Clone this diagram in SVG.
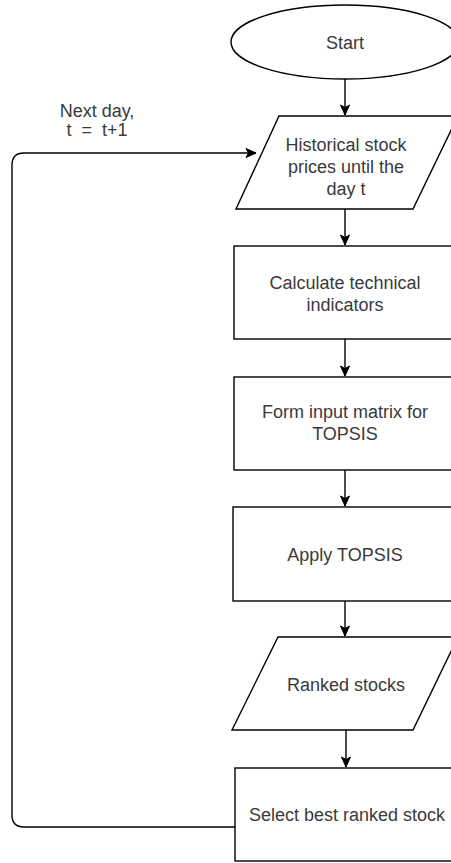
<svg xmlns="http://www.w3.org/2000/svg" width="451" height="863" viewBox="0 0 451 863">
<defs>
<style>
.s{fill:#fff;stroke:#000;stroke-width:1.4}
.t{font-family:"Liberation Sans",Arial,sans-serif;font-size:18px;fill:#3a3a3a;text-anchor:middle}
.c{fill:none;stroke:#000;stroke-width:1.4}
</style>
<marker id="a" viewBox="0 0 12 12" refX="11" refY="6" markerWidth="12" markerHeight="12" markerUnits="userSpaceOnUse" orient="auto">
<path d="M1,1.5 L11,6 L1,10.5 L3.5,6 Z" fill="#000" stroke="#000" stroke-width="1"/>
</marker>
</defs>
<rect width="451" height="863" fill="#fff"/>
<g id="connectors">
<path class="c" d="M345,79 V115" marker-end="url(#a)"/>
<path class="c" d="M345,209 V245" marker-end="url(#a)"/>
<path class="c" d="M345,339 V376" marker-end="url(#a)"/>
<path class="c" d="M345,470 V506" marker-end="url(#a)"/>
<path class="c" d="M345,601 V636" marker-end="url(#a)"/>
<path class="c" d="M346,730 V767" marker-end="url(#a)"/>
<path class="c" d="M235,827 H24 Q12,827 12,815 V165 Q12,153 24,153 H256" marker-end="url(#a)"/>
<text class="t" x="97" y="117">Next day,</text>
<text class="t" x="97" y="136" xml:space="preserve">t  =  t+1</text>
</g>
<g id="start">
<ellipse class="s" cx="345" cy="42" rx="114" ry="37"/>
<text class="t" x="345" y="49">Start</text>
</g>
<g id="historical">
<path class="s" d="M279,116 H458 L413,209 H236 Z"/>
<text class="t" x="346" y="151">Historical stock</text>
<text class="t" x="346" y="173">prices until the</text>
<text class="t" x="346" y="195">day t</text>
</g>
<g id="calculate">
<rect class="s" x="234" y="246" width="222" height="93"/>
<text class="t" x="345" y="289">Calculate technical</text>
<text class="t" x="345" y="311">indicators</text>
</g>
<g id="form">
<rect class="s" x="234" y="377" width="222" height="93"/>
<text class="t" x="345" y="418">Form input matrix for</text>
<text class="t" x="345" y="440">TOPSIS</text>
</g>
<g id="apply">
<rect class="s" x="233" y="507" width="222" height="94"/>
<text class="t" x="345" y="561">Apply TOPSIS</text>
</g>
<g id="ranked">
<path class="s" d="M278,637 H458 L413,730 H232 Z"/>
<text class="t" x="346" y="691">Ranked stocks</text>
</g>
<g id="select">
<rect class="s" x="235" y="768" width="222" height="93"/>
<text class="t" x="347" y="821">Select best ranked stock</text>
</g>
</svg>
